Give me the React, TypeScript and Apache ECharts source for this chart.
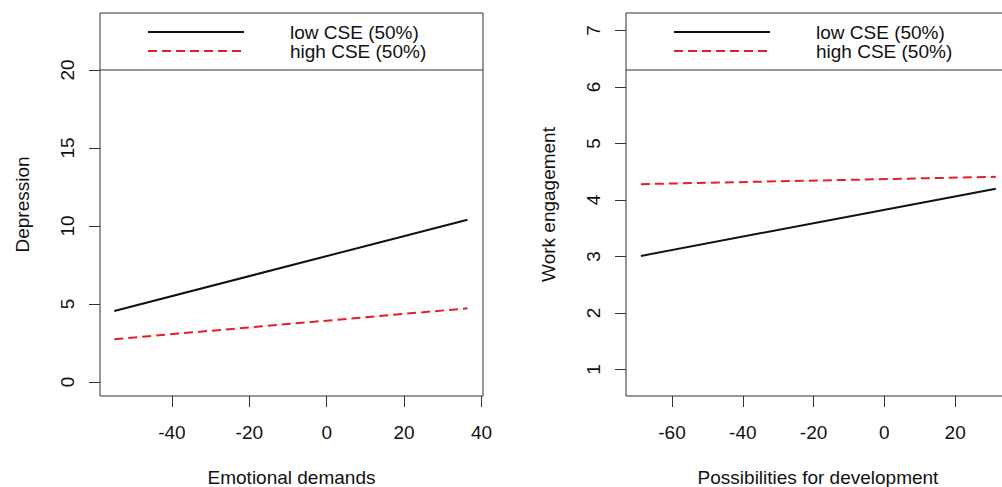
import React, { useEffect, useRef } from "react";
import * as echarts from "echarts";

// ---- data ----
const legendNames = ["low CSE (50%)", "high CSE (50%)"];

const leftX = [-54.9, 36.4];
const leftLow = [4.55, 10.4];
const leftHigh = [2.74, 4.72];
const leftXTicks = [-40, -20, 0, 20, 40];
const leftYTicks = [0, 5, 10, 15, 20];

const rightX = [-68.8, 31.5];
const rightLow = [3.01, 4.2];
const rightHigh = [4.28, 4.41];
const rightXTicks = [-60, -40, -20, 0, 20];
const rightYTicks = [1, 2, 3, 4, 5, 6, 7];

const FONT = "'Liberation Sans', Arial, Helvetica, sans-serif";
const TXT = "#111";
const AX = "#333";
const RED = "#e41f26";
const BLACK = "#111";
const FS = 19;

const pair = (xs: number[], ys: number[]) => xs.map((x, i) => [x, ys[i]]);

export default function App() {
  const ref = useRef<HTMLDivElement>(null);
  useEffect(() => {
    if (!ref.current) return;
    const chart = echarts.init(ref.current, undefined, { renderer: "svg" });

    const xAxisBase = (idx: number, min: number, max: number, ticks: number[], name: string) => ({
      type: "value",
      gridIndex: idx,
      position: "bottom",
      min,
      max,
      name,
      nameLocation: "middle",
      nameGap: 72,
      nameTextStyle: { fontFamily: FONT, fontSize: FS, color: TXT },
      axisLine: { show: false, onZero: false },
      axisTick: { show: true, inside: false, length: 11, customValues: ticks, lineStyle: { color: AX, width: 1 } },
      axisLabel: { show: true, customValues: ticks, margin: 27, fontFamily: FONT, fontSize: FS, color: TXT },
      splitLine: { show: false },
    });
    const yAxisBase = (idx: number, min: number, max: number, ticks: number[], name: string) => ({
      type: "value",
      gridIndex: idx,
      position: "left",
      min,
      max,
      name,
      nameLocation: "middle",
      nameRotate: 90,
      nameGap: 68,
      nameTextStyle: { fontFamily: FONT, fontSize: FS, color: TXT },
      axisLine: { show: false, onZero: false },
      axisTick: { show: true, inside: false, length: 11, customValues: ticks, lineStyle: { color: AX, width: 1 } },
      axisLabel: { show: true, customValues: ticks, rotate: 90, margin: 23, fontFamily: FONT, fontSize: FS, color: TXT },
      splitLine: { show: false },
    });

    const legendBase = (left: number) => ({
      show: true,
      left,
      top: 22.5,
      orient: "vertical",
      padding: 0,
      itemGap: 0,
      itemWidth: 96,
      itemHeight: 6,
      selectedMode: false,
      data: legendNames,
      itemStyle: { color: "transparent", borderWidth: 0, opacity: 0 },
      textStyle: { fontFamily: FONT, fontSize: FS, color: TXT, lineHeight: 19, padding: [0, 0, 0, 41] },
    });

    const lineSeries = (name: string, data: number[][], idx: number, color: string, dashed: boolean) => ({
      type: "line",
      name,
      xAxisIndex: idx,
      yAxisIndex: idx,
      data,
      symbol: "none",
      showSymbol: false,
      silent: true,
      lineStyle: { color, width: 2, type: dashed ? [9, 5] : "solid" },
      itemStyle: { color },
    });

    const gridBase = (left: number, width: number) => ({
      left,
      top: 13,
      width,
      height: 383,
      containLabel: false,
      outerBoundsMode: "none",
      show: true,
      borderColor: AX,
      borderWidth: 1,
      backgroundColor: "transparent",
    });

    chart.setOption({
      animation: false,
      backgroundColor: "#ffffff",
      grid: [gridBase(100, 383), gridBase(626, 384)],
      xAxis: [
        xAxisBase(0, -58.6, 40.4, leftXTicks, "Emotional demands"),
        xAxisBase(1, -73, 35.5, rightXTicks, "Possibilities for development"),
      ],
      yAxis: [
        yAxisBase(0, -0.9, 23.65, leftYTicks, "Depression"),
        yAxisBase(1, 0.53, 7.31, rightYTicks, "Work engagement"),
      ],
      legend: [legendBase(147), legendBase(673)],
      graphic: [
        { type: "line", shape: { x1: 100, y1: 70, x2: 483, y2: 70 }, style: { stroke: AX, lineWidth: 1 }, silent: true },
        { type: "line", shape: { x1: 626, y1: 70, x2: 1010, y2: 70 }, style: { stroke: AX, lineWidth: 1 }, silent: true },
      ],
      series: [
        lineSeries(legendNames[0], pair(leftX, leftLow), 0, BLACK, false),
        lineSeries(legendNames[1], pair(leftX, leftHigh), 0, RED, true),
        lineSeries(legendNames[0], pair(rightX, rightLow), 1, BLACK, false),
        lineSeries(legendNames[1], pair(rightX, rightHigh), 1, RED, true),
      ],
    });
    return () => chart.dispose();
  }, []);
  return (
    <div
      ref={ref}
      style={{ position: "fixed", left: 0, top: 0, width: 1002, height: 487, background: "#fff" }}
    />
  );
}
